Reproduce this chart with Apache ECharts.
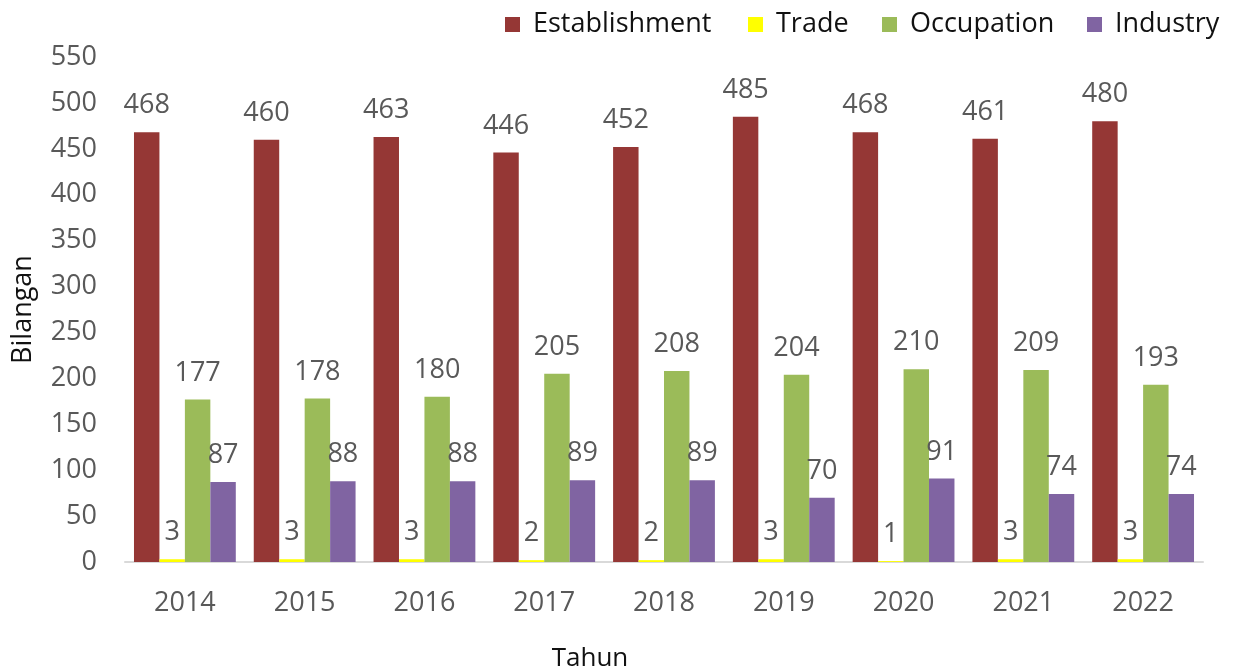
<!DOCTYPE html>
<html>
<head>
<meta charset="utf-8">
<script src="https://cdn.jsdelivr.net/npm/echarts@6/dist/echarts.min.js"></script>
<style>
  html, body { margin: 0; padding: 0; background: #fff; }
  #chart { width: 1233px; height: 672px; }
</style>
</head>
<body>
<div id="chart"></div>
<script>
// Yearly counts per category
const years = ['2014', '2015', '2016', '2017', '2018', '2019', '2020', '2021', '2022'];
const establishment = [468, 460, 463, 446, 452, 485, 468, 461, 480];
const trade = [3, 3, 3, 2, 2, 3, 1, 3, 3];
const occupation = [177, 178, 180, 205, 208, 204, 210, 209, 193];
const industry = [87, 88, 88, 89, 89, 70, 91, 74, 74];

const seriesNames = ['Establishment', 'Trade', 'Occupation', 'Industry'];
const seriesColors = ['#953735', '#ffff00', '#9bbb59', '#8064a2'];
const seriesData = [establishment, trade, occupation, industry];

const FONT = '"Open Sans", "DejaVu Sans", sans-serif';
const LABEL_COLOR = '#595959';

function barSeries(name, data, color) {
  return {
    name: name,
    type: 'bar',
    data: data,
    barGap: '0%',
    barCategoryGap: '15%',
    itemStyle: { color: color },
    label: {
      show: true,
      position: 'top',
      distance: 13,
      color: LABEL_COLOR,
      fontFamily: FONT,
      fontSize: 27
    }
  };
}

// One legend block per series so each entry sits at its own spot along the top
const legendLeft = [500, 743, 877, 1082];
const legends = seriesNames.map(function (name, i) {
  return {
    left: legendLeft[i],
    top: 6,
    itemWidth: 15,
    itemHeight: 15,
    icon: 'rect',
    selectedMode: false,
    textStyle: {
      color: '#111111',
      fontFamily: FONT,
      fontSize: 27,
      padding: [0, 0, 0, 8]
    },
    data: [name]
  };
});

const chart = echarts.init(document.getElementById('chart'), null, { renderer: 'canvas' });
chart.setOption({
  backgroundColor: '#ffffff',
  animation: false,
  legend: legends,
  grid: {
    left: 125,
    right: 30,
    top: 57,
    bottom: 110,
    containLabel: false,
    outerBoundsMode: 'none'
  },
  xAxis: {
    type: 'category',
    data: years,
    name: 'Tahun',
    nameLocation: 'middle',
    nameGap: 84,
    nameTextStyle: {
      color: '#111111',
      fontFamily: FONT,
      fontSize: 26,
      padding: [0, 148, 0, 0]
    },
    axisLine: { show: true, lineStyle: { color: '#d9d9d9', width: 2 } },
    axisTick: { show: false },
    axisLabel: { color: LABEL_COLOR, fontFamily: FONT, fontSize: 27, margin: 28 }
  },
  yAxis: {
    type: 'value',
    min: 0,
    max: 550,
    interval: 50,
    name: 'Bilangan',
    nameLocation: 'middle',
    nameGap: 88,
    nameRotate: 90,
    nameTextStyle: { color: '#111111', fontFamily: FONT, fontSize: 27 },
    axisLine: { show: false },
    axisTick: { show: false },
    splitLine: { show: false },
    axisLabel: { color: LABEL_COLOR, fontFamily: FONT, fontSize: 27, margin: 28 }
  },
  series: seriesNames.map(function (name, i) {
    return barSeries(name, seriesData[i], seriesColors[i]);
  })
});
</script>
</body>
</html>
